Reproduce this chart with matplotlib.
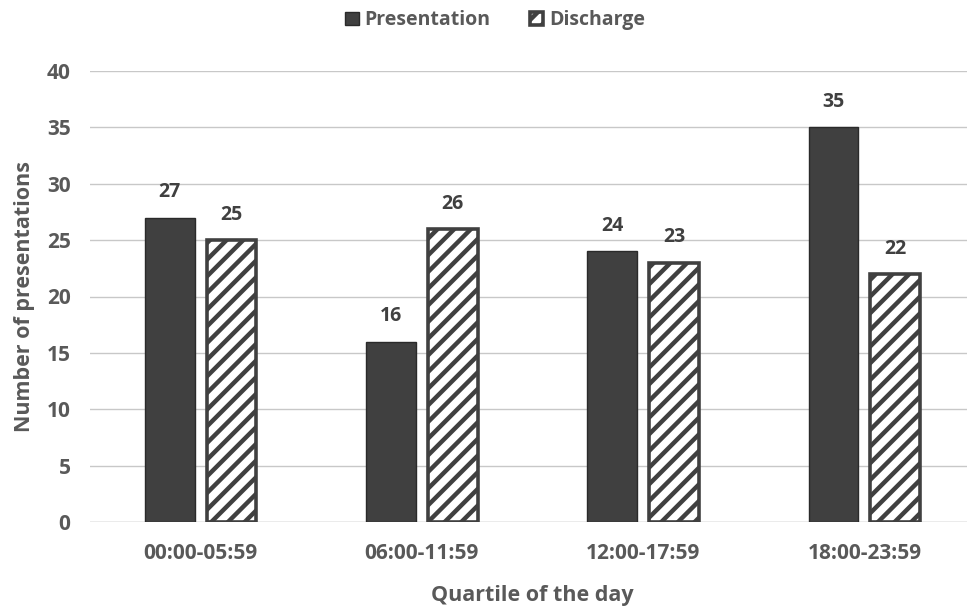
import matplotlib
matplotlib.use("Agg")
import matplotlib.pyplot as plt
import numpy as np

categories = ["00:00-05:59", "06:00-11:59", "12:00-17:59", "18:00-23:59"]
presentation = [27, 16, 24, 35]
discharge = [25, 26, 23, 22]
y_ticks = [0, 5, 10, 15, 20, 25, 30, 35, 40]

plt.rcParams["font.family"] = ["Open Sans", "DejaVu Sans"]
plt.rcParams["font.weight"] = "bold"
plt.rcParams["hatch.linewidth"] = 3.2
plt.rcParams["hatch.color"] = "#404040"

dark = "#404040"
text_col = "#595959"

fig = plt.figure(figsize=(9.67, 6.10), dpi=100)
ax = fig.add_axes([90 / 967, 88 / 610, 885 / 967, 451 / 610])

x = np.arange(len(categories))
w = 0.225
gap = 0.055
off = (w + gap) / 2

b1 = ax.bar(x - off, presentation, w, color=dark, edgecolor="#2a2a2a",
            linewidth=1.0, label="Presentation", zorder=3)
b2 = ax.bar(x + off, discharge, w, color="white", edgecolor=dark,
            linewidth=2.6, hatch="//", label="Discharge", zorder=3)

for bars in (b1, b2):
    for r in bars:
        h = r.get_height()
        ax.annotate(f"{h:g}", (r.get_x() + r.get_width() / 2, h),
                    xytext=(0, 11), textcoords="offset points",
                    ha="center", va="bottom", fontsize=14,
                    fontweight="bold", color=dark)

ax.set_xlim(-0.5, 3.5)
ax.set_ylim(0, 40)
ax.set_yticks(y_ticks)
ax.set_xticks(x)
ax.set_xticklabels(categories)
ax.tick_params(axis="both", length=0, labelsize=15, labelcolor=text_col)
ax.tick_params(axis="x", pad=15)
ax.tick_params(axis="y", pad=14)
for lab in ax.get_xticklabels() + ax.get_yticklabels():
    lab.set_fontweight("bold")

ax.yaxis.grid(True, color="#c8c8c8", linewidth=1.0, zorder=0)
ax.set_axisbelow(True)
for s in ax.spines.values():
    s.set_visible(False)
ax.axhline(0, color="#c8c8c8", linewidth=1.0, zorder=1)

ax.set_ylabel("Number of presentations", fontsize=15.5, fontweight="bold",
              color=text_col, labelpad=8)
ax.set_xlabel("Quartile of the day", fontsize=15.5, fontweight="bold",
              color=text_col, labelpad=15)

leg = fig.legend(handles=[b1, b2], loc="center", bbox_to_anchor=(0.512, 0.967),
                 ncol=2, frameon=False, fontsize=14, handlelength=0.7,
                 handleheight=0.7, handletextpad=0.3, columnspacing=2.0)
for t in leg.get_texts():
    t.set_color(text_col)
    t.set_fontweight("bold")

fig.savefig("out.png", dpi=100)
